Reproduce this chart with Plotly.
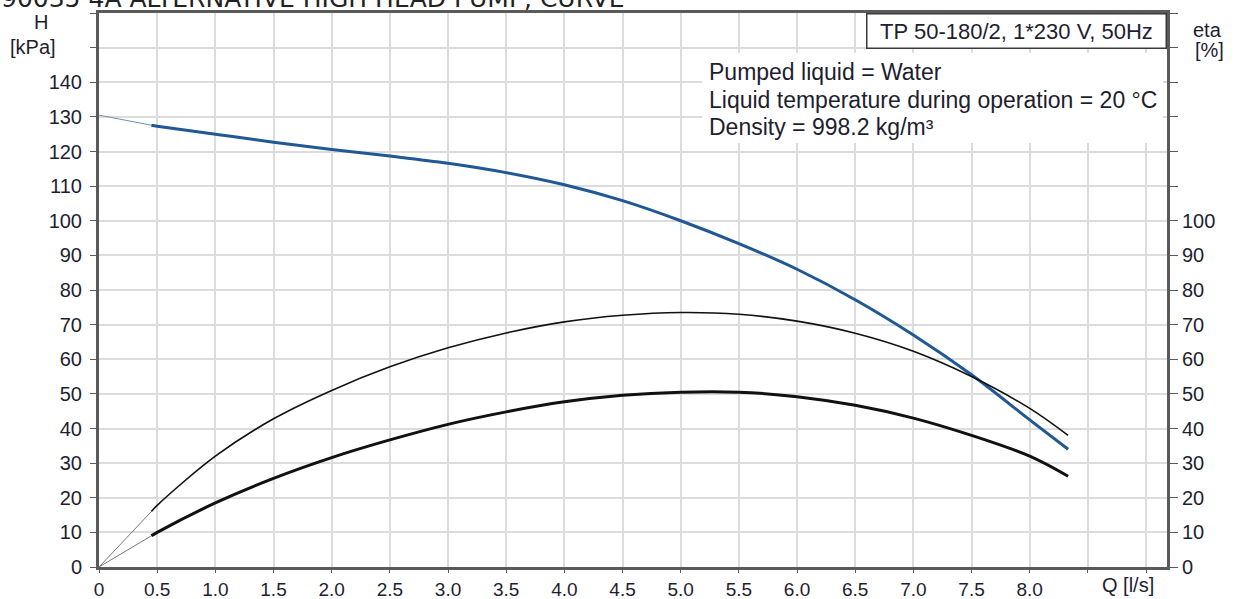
import plotly.graph_objects as go

# Pump curve data
q_h = [0.45, 0.5, 1.0, 1.5, 2.0, 2.5, 3.0, 3.5, 4.0, 4.5, 5.0, 5.5, 6.0, 6.5, 7.0, 7.5, 8.0, 8.33]
h_kpa = [127.6, 127.3, 125.0, 122.7, 120.6, 118.7, 116.6, 113.9, 110.4, 105.8, 100.0, 93.4, 86.0, 77.2, 67.0, 55.5, 42.5, 34.0]
h_ext_q = [0.0, 0.45]
h_ext = [130.5, 127.6]

q_eta = [0.45, 0.5, 1.0, 1.5, 2.0, 2.5, 3.0, 3.5, 4.0, 4.5, 5.0, 5.5, 6.0, 6.5, 7.0, 7.5, 8.0, 8.33]
eta_pump = [16.0, 17.8, 32.0, 42.8, 51.0, 57.8, 63.3, 67.6, 70.8, 72.7, 73.5, 73.0, 71.0, 67.5, 62.3, 55.0, 45.8, 38.0]
eta_total = [9.0, 10.0, 18.5, 25.6, 31.6, 36.7, 41.2, 44.8, 47.7, 49.6, 50.5, 50.5, 49.2, 46.7, 43.0, 38.0, 32.0, 26.2]
eta_ext_q = [0.0, 0.45]
eta_pump_ext = [0.0, 16.0]
eta_total_ext = [0.0, 9.0]

x_ticks = [0, 0.5, 1.0, 1.5, 2.0, 2.5, 3.0, 3.5, 4.0, 4.5, 5.0, 5.5, 6.0, 6.5, 7.0, 7.5, 8.0, 8.5, 9.0]
x_ticktext = ["0", "0.5", "1.0", "1.5", "2.0", "2.5", "3.0", "3.5", "4.0", "4.5", "5.0", "5.5",
              "6.0", "6.5", "7.0", "7.5", "8.0", "", ""]
h_ticks = list(range(0, 170, 10))
h_ticktext = [str(v) if v <= 140 else "" for v in h_ticks]
eta_ticks = list(range(0, 170, 10))
eta_ticktext = [str(v) if v <= 100 else "" for v in eta_ticks]

title_text = "90035 4A ALTERNATIVE HIGH HEAD PUMP, CURVE"
pump_text = "TP 50-180/2, 1*230 V, 50Hz"
info_lines = ["Pumped liquid = Water", "Liquid temperature during operation = 20 °C", "Density = 998.2 kg/m³"]

FONT = "Liberation Sans, Arial, sans-serif"
TXT = "#1e1e30"
BLUE = "#1f5894"
AX = "#5a5a5a"

L, R, T, B = 99, 71, 13, 32
W, H = 1238, 599
PW, PH = W - L - R, H - T - B


def px(xp):
    return (xp - L) / PW


def py(yp):
    return (H - B - yp) / PH


fig = go.Figure()

# thin extensions toward origin
fig.add_trace(go.Scatter(x=h_ext_q, y=h_ext, mode="lines", line=dict(color="#6f8fb5", width=1),
                         hoverinfo="skip", showlegend=False))
fig.add_trace(go.Scatter(x=eta_ext_q, y=eta_pump_ext, mode="lines", line=dict(color="#777777", width=1),
                         yaxis="y2", hoverinfo="skip", showlegend=False))
fig.add_trace(go.Scatter(x=eta_ext_q, y=eta_total_ext, mode="lines", line=dict(color="#777777", width=1),
                         yaxis="y2", hoverinfo="skip", showlegend=False))

# main curves
fig.add_trace(go.Scatter(x=q_eta, y=eta_pump, mode="lines", line=dict(color="#111111", width=1.6, shape="spline"),
                         yaxis="y2", name="eta pump", showlegend=False))
fig.add_trace(go.Scatter(x=q_eta, y=eta_total, mode="lines", line=dict(color="#111111", width=3, shape="spline"),
                         yaxis="y2", name="eta total", showlegend=False))
fig.add_trace(go.Scatter(x=q_h, y=h_kpa, mode="lines", line=dict(color=BLUE, width=3, shape="spline"),
                         name="H", showlegend=False))

tf = dict(family=FONT, size=20, color=TXT)
fig.update_layout(
    width=W, height=H,
    margin=dict(l=L, r=R, t=T, b=B, autoexpand=False),
    paper_bgcolor="white", plot_bgcolor="white",
    font=dict(family=FONT, size=20, color=TXT),
    xaxis=dict(range=[0, 9.18], tickvals=x_ticks, ticktext=x_ticktext, showgrid=True, automargin=False,
               gridcolor="#dcdcdc", gridwidth=2, showline=True, linecolor=AX, linewidth=3,
               mirror=True, ticks="outside", ticklen=3, tickcolor=AX, zeroline=False,
               tickfont=dict(family=FONT, size=19, color=TXT)),
    yaxis=dict(range=[0, 160], tickvals=h_ticks, ticktext=h_ticktext, showgrid=True, automargin=False,
               gridcolor="#dcdcdc", gridwidth=2, showline=True, linecolor=AX, linewidth=3,
               mirror=True, ticks="outside", ticklen=6, tickcolor=AX, zeroline=False, tickfont=tf,
               ticklabelstandoff=4),
    yaxis2=dict(range=[0, 160], tickvals=eta_ticks, ticktext=eta_ticktext, overlaying="y", side="right",
                showgrid=False, showline=True, linecolor=AX, linewidth=3, ticks="outside", automargin=False,
                ticklen=8, tickcolor=AX, zeroline=False, tickfont=tf),
)

# white panel behind the info text
fig.add_shape(type="rect", xref="paper", yref="paper", x0=px(702), x1=px(1163), y0=py(143), y1=py(53),
              fillcolor="white", line=dict(width=0), layer="above")

ann = []
ann.append(dict(text=title_text, xref="paper", yref="paper", x=px(-1), y=py(-2), xanchor="left",
                yanchor="middle", showarrow=False,
                font=dict(family="DejaVu Sans, sans-serif", size=25, color="#222222")))
ann.append(dict(text="H", xref="paper", yref="paper", x=px(41), y=py(22), xanchor="center", yanchor="middle",
                showarrow=False, font=dict(family=FONT, size=20, color=TXT)))
ann.append(dict(text="[kPa]", xref="paper", yref="paper", x=px(33), y=py(47), xanchor="center", yanchor="middle",
                showarrow=False, font=dict(family=FONT, size=20, color=TXT)))
ann.append(dict(text="eta", xref="paper", yref="paper", x=px(1207), y=py(30), xanchor="center", yanchor="middle",
                showarrow=False, font=dict(family=FONT, size=20, color=TXT)))
ann.append(dict(text="[%]", xref="paper", yref="paper", x=px(1209), y=py(50), xanchor="center", yanchor="middle",
                showarrow=False, font=dict(family=FONT, size=20, color=TXT)))
ann.append(dict(text="Q [l/s]", xref="paper", yref="paper", x=px(1128), y=py(585), xanchor="center",
                yanchor="middle", showarrow=False, font=dict(family=FONT, size=20, color=TXT)))
ann.append(dict(text=pump_text, xref="paper", yref="paper", x=1.0, y=1.0, xanchor="right", yanchor="top",
                showarrow=False, bgcolor="white", bordercolor="#3a3a3a", borderwidth=1.5, borderpad=0,
                width=298, height=33, align="center",
                font=dict(family=FONT, size=22, color=TXT)))
for line, ypx in zip(info_lines, [72, 100, 127]):
    ann.append(dict(text=line, xref="paper", yref="paper", x=px(707), y=py(ypx), xanchor="left",
                    yanchor="middle", align="left", showarrow=False,
                    font=dict(family=FONT, size=23, color=TXT)))
fig.update_layout(annotations=ann)

fig.write_html("out.html", config={"displayModeBar": False},
               post_script="document.body.style.margin='0';document.body.style.overflow='hidden';")
